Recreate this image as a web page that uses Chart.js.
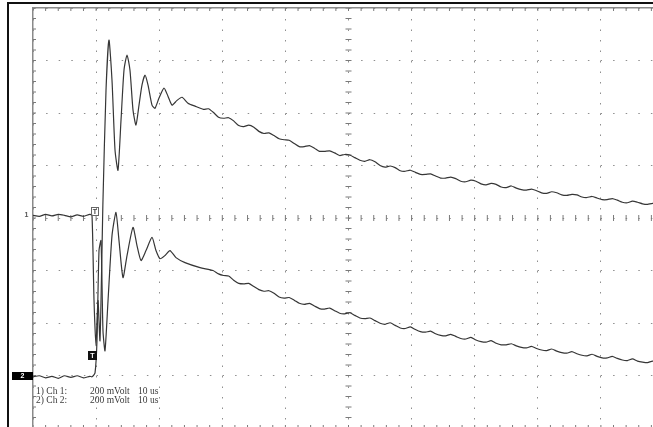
<!DOCTYPE html>
<html>
<head>
<meta charset="utf-8">
<script src="https://cdn.jsdelivr.net/npm/chart.js@4/dist/chart.umd.min.js"></script>
<style>
  html, body { margin: 0; padding: 0; background: #fff; overflow: hidden; }
  #wrap { position: relative; width: 653px; height: 427px; overflow: hidden; background: #fff; }
  #scope { position: absolute; left: 0; top: 0; }
  .frame { position: absolute; left: 7px; top: 2px; width: 700px; height: 460px;
           border-top: 2px solid #111; border-left: 2px solid #111; }
  .note { position: absolute; font: 9.5px "Liberation Serif", "DejaVu Serif", serif; color: #3a3a3a;
          white-space: pre; line-height: 9px; }
  .mark { position: absolute; font: bold 7px "Liberation Sans", sans-serif; line-height: 8px; text-align: center; }
</style>
</head>
<body>
<div id="wrap">
  <canvas id="scope" width="680" height="440"></canvas>
  <div class="frame"></div>
  <div class="mark" style="left:22px; top:211px; width:9px; color:#555;">1</div>
  <div class="mark" style="left:12px; top:372px; width:21px; height:8px; background:#000; color:#fff;">2</div>
  <div class="mark" style="left:91px; top:207px; width:6px; height:7px; border:1px solid #666; color:#444; line-height:7px;">T</div>
  <div class="mark" style="left:88px; top:351px; width:9px; height:9px; background:#111; color:#fff; line-height:9px;">T</div>
  <div class="note" style="left:36px; top:387px;">1) Ch 1:</div>
  <div class="note" style="left:90px; top:387px;">200 mVolt</div>
  <div class="note" style="left:138px; top:387px;">10 us</div>
  <div class="note" style="left:36px; top:396px;">2) Ch 2:</div>
  <div class="note" style="left:90px; top:396px;">200 mVolt</div>
  <div class="note" style="left:138px; top:396px;">10 us</div>
</div>
<script>
// time in microseconds, amplitude in mV (200 mV / div, 10 us / div)
const ch1Time = [0, 1.0, 2.0, 3.0, 4.0, 5.0, 6.0, 7.0, 8.0, 9.0, 9.35, 9.67, 9.98, 10.30, 10.62,
  11.09, 11.57, 12.04, 12.52, 13.00, 13.47, 13.95, 14.42, 14.90, 15.37, 15.85, 16.32, 16.80,
  17.27, 17.75, 18.23, 18.86, 19.33, 19.97, 20.76, 21.39, 22.03, 22.82, 23.61, 24.56, 25.67,
  27.0, 27.8, 28.6, 29.4, 30.2, 31.0, 31.8, 32.6, 33.4, 34.2, 35.0, 35.8, 36.6, 37.4, 38.2,
  39.0, 39.8, 40.6, 41.4, 42.2, 43.0, 43.8, 44.6, 45.4, 46.2, 47.0, 47.8, 48.6, 49.4, 50.2,
  51.0, 51.8, 52.6, 53.4, 54.2, 55.0, 55.8, 56.6, 57.4, 58.2, 59.0, 59.8, 60.6, 61.4, 62.2,
  63.0, 63.8, 64.6, 65.4, 66.2, 67.0, 67.8, 68.6, 69.4, 70.2, 71.0, 71.8, 72.6, 73.4, 74.2,
  75.0, 75.8, 76.6, 77.4, 78.2, 79.0, 79.8, 80.6, 81.4, 82.2, 83.0, 83.8, 84.6, 85.4, 86.2,
  87.0, 87.8, 88.6, 89.4, 90.2, 91.0, 91.8, 92.6, 93.4, 94.2, 95.0, 95.8, 96.6, 97.4, 98.2,
  99.0, 99.6, 100]
const ch1Volts = [0, -4, 4, -2, 4, 0, -6, 2, -4, 4, 0, -324, -496, -324, -477,
  57, 477, 668, 515, 248, 172, 363, 553, 611, 553, 401, 344, 420,
  496, 534, 496, 420, 408, 447, 485, 454, 420, 438, 450, 427, 416,
  404, 406, 392, 374, 370, 372, 360, 342, 338, 344, 336, 320, 312, 314, 304,
  292, 288, 286, 274, 262, 262, 266, 256, 244, 244, 246, 238, 228, 232, 230,
  220, 210, 206, 212, 204, 190, 184, 188, 182, 170, 168, 172, 164, 156, 156,
  158, 150, 142, 142, 146, 140, 130, 128, 134, 130, 120, 116, 122, 118, 108,
  106, 112, 104, 98, 96, 100, 94, 86, 84, 90, 86, 78, 76, 80, 78,
  70, 68, 72, 66, 60, 60, 64, 58, 50, 48, 54, 50, 44, 42, 46,
  40, 36, 34]

const ch2Time = [0, 1.0, 2.0, 3.0, 4.0, 5.0, 6.0, 7.0, 8.0, 9.0, 9.35, 9.83, 10.14, 10.46, 10.78,
  11.09, 11.41, 11.89, 12.52, 13.15, 13.63, 14.26, 14.90, 15.85, 16.48, 17.12, 17.91, 18.86,
  19.49, 20.13, 20.92, 21.71, 22.66, 24.09, 26.47, 28.53, 29.4,
  30.2, 31.0, 31.8, 32.6, 33.4, 34.2, 35.0, 35.8, 36.6, 37.4, 38.2,
  39.0, 39.8, 40.6, 41.4, 42.2, 43.0, 43.8, 44.6, 45.4, 46.2, 47.0, 47.8, 48.6, 49.4, 50.2,
  51.0, 51.8, 52.6, 53.4, 54.2, 55.0, 55.8, 56.6, 57.4, 58.2, 59.0, 59.8, 60.6, 61.4, 62.2,
  63.0, 63.8, 64.6, 65.4, 66.2, 67.0, 67.8, 68.6, 69.4, 70.2, 71.0, 71.8, 72.6, 73.4, 74.2,
  75.0, 75.8, 76.6, 77.4, 78.2, 79.0, 79.8, 80.6, 81.4, 82.2, 83.0, 83.8, 84.6, 85.4, 86.2,
  87.0, 87.8, 88.6, 89.4, 90.2, 91.0, 91.8, 92.6, 93.4, 94.2, 95.0, 95.8, 96.6, 97.4, 98.2,
  99.0, 99.6, 100]
const ch2Volts = [0, 4, -4, 2, -6, 4, -2, 4, -4, 2, 0, 15, 137, 481, 519,
  176, 99, 290, 538, 626, 519, 378, 462, 569, 500, 443, 481, 531,
  481, 450, 462, 481, 454, 435, 416, 405, 392,
  386, 384, 368, 356, 354, 356, 344, 332, 326, 328, 318,
  304, 300, 302, 292, 280, 276, 280, 270, 260, 258, 262, 252, 242, 240, 244,
  234, 224, 222, 224, 214, 204, 200, 206, 196, 186, 184, 190, 180, 172, 170,
  174, 164, 158, 156, 162, 154, 146, 144, 150, 140, 134, 132, 138, 128, 122,
  122, 126, 118, 112, 110, 116, 108, 102, 100, 106, 98, 92, 90, 96, 88,
  82, 80, 86, 78, 72, 72, 78, 70, 64, 62, 68, 60, 56, 54, 60,
  52, 48, 48]

// ground marker positions of the two channels on screen (mV)
const ch1Offset = 10
const ch2Offset = -605

// screen: 10 divisions x 10 us, 8 divisions x 200 mV
const timeMin = 0, timeMax = 100, timeDiv = 10
const voltMin = -800, voltMax = 800, voltDiv = 200
const minorPerDiv = 5

function trace(times, volts, offset) {
  return times.map((t, i) => ({ x: t, y: volts[i] + offset }))
}

// small tick marks along the frame and the centre cross
const xMinor = [], yMinor = []
for (let t = timeMin; t <= timeMax; t += timeDiv / minorPerDiv) xMinor.push(t)
for (let v = voltMin; v <= voltMax; v += voltDiv / minorPerDiv) yMinor.push(v)
const xMid = (timeMin + timeMax) / 2

function tickSet(points, rotation) {
  return {
    data: points, showLine: false, clip: 0,
    pointStyle: 'line', pointRotation: rotation, pointRadius: 3,
    pointBorderColor: '#7a7a7a', pointBorderWidth: 1, pointHoverRadius: 0
  }
}

const traceStyle = {
  showLine: true, borderColor: '#363636', borderWidth: 1.2,
  pointRadius: 0, pointHoverRadius: 0, tension: 0.2, fill: false
}

const data = {
  datasets: [
    Object.assign({ label: 'Ch 1', data: trace(ch1Time, ch1Volts, ch1Offset) }, traceStyle),
    Object.assign({ label: 'Ch 2', data: trace(ch2Time, ch2Volts, ch2Offset) }, traceStyle),
    tickSet(xMinor.map(t => ({ x: t, y: voltMax })), 90),
    tickSet(xMinor.map(t => ({ x: t, y: voltMin })), 90),
    tickSet(xMinor.map(t => ({ x: t, y: 0 })), 90),
    tickSet(yMinor.map(v => ({ x: timeMin, y: v })), 0),
    tickSet(yMinor.map(v => ({ x: xMid, y: v })), 0)
  ]
}

const config = {
  type: 'scatter',
  data: data,
  options: {
    responsive: false,
    animation: false,
    devicePixelRatio: 1,
    events: [],
    layout: { padding: { left: 33, top: 8, right: 16, bottom: 12 } },
    plugins: { legend: { display: false }, tooltip: { enabled: false } },
    scales: {
      x: {
        type: 'linear', position: 'top', min: timeMin, max: timeMax,
        ticks: { display: false, stepSize: timeDiv },
        grid: { color: '#8e8e8e', lineWidth: 1, drawTicks: false },
        border: { display: true, color: '#8a8a8a', width: 1.5, dash: [1.5, 9] }
      },
      xb: {
        type: 'linear', position: 'bottom', min: timeMin, max: timeMax,
        ticks: { display: false }, grid: { display: false, drawTicks: false },
        border: { display: true, color: '#8a8a8a', width: 1.5 }
      },
      y: {
        type: 'linear', position: 'left', min: voltMin, max: voltMax,
        ticks: { display: false, stepSize: voltDiv },
        grid: { color: '#8e8e8e', lineWidth: 1, drawTicks: false },
        border: { display: true, color: '#8a8a8a', width: 1.5, dash: [1.5, 11.1] }
      }
    }
  }
}

const scopeChart = new Chart(document.getElementById('scope'), config)
</script>
</body>
</html>
